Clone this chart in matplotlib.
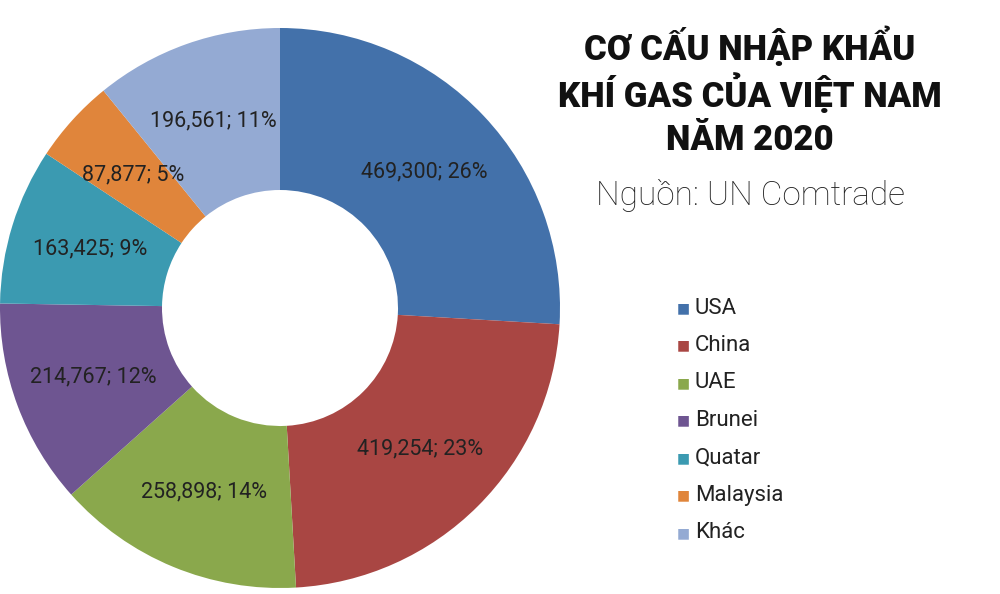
import matplotlib
matplotlib.use("Agg")
import matplotlib.pyplot as plt

categories = ["USA", "China", "UAE", "Brunei", "Quatar", "Malaysia", "Khác"]
values = [469300, 419254, 258898, 214767, 163425, 87877, 196561]
percents = [26, 23, 14, 12, 9, 5, 11]
colors = ["#4371AA", "#A94643", "#8AA84C", "#6E5591", "#3B9AB1", "#E0853B", "#94AAD3"]

fig = plt.figure(figsize=(10, 5.94), dpi=100)
ax = fig.add_axes([0, 6/594, 0.56, 560/594])
wedges, _ = ax.pie(values, colors=colors, startangle=90, counterclock=False,
                   radius=1.0, wedgeprops=dict(width=1 - 118/280, edgecolor="white", linewidth=0))
import numpy as np
total = sum(values)
ang = 90.0
for v, p in zip(values, percents):
    sweep = 360 * v / total
    mid = np.deg2rad(ang - sweep / 2)
    ang -= sweep
    r = 0.71
    ax.text(r*np.cos(mid), r*np.sin(mid), f"{v:,}; {p}%", ha="center", va="center",
            fontsize=15.5, color="#222222", family="Roboto")
ax.set_xlim(-1, 1); ax.set_ylim(-1, 1); ax.set_aspect("equal"); ax.axis("off")

for i, t in enumerate(["CƠ CẤU NHẬP KHẨU", "KHÍ GAS CỦA VIỆT NAM", "NĂM 2020"]):
    fig.text(0.75, 1 - (47 + i*47)/594, t, ha="center", va="center",
             fontsize=25, fontweight="heavy", family="Roboto", color="#111111")
fig.text(0.75, 1 - 195/594, "Nguồn: UN Comtrade", ha="center", va="center",
         fontsize=24, family="Roboto", fontweight="light", color="#222222")

for i, (c, col) in enumerate(zip(categories, colors)):
    y = 1 - (308 + i*37.5)/594
    fig.text(0.683, y, "■", color=col, fontsize=10, ha="center", va="center", family="DejaVu Sans")
    fig.text(0.695, y, c, fontsize=16, ha="left", va="center", family="Roboto", color="#222222")

fig.savefig("out.png", dpi=100, facecolor="white")
